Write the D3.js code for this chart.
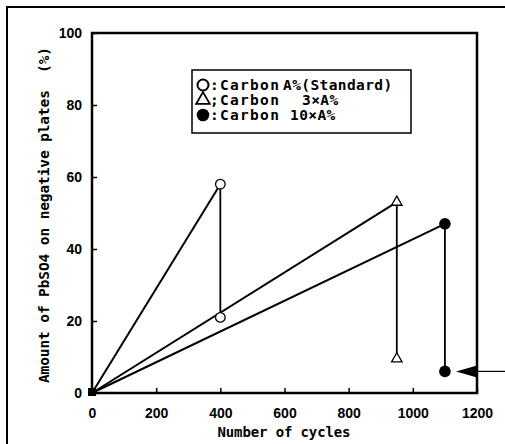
<!DOCTYPE html>
<html>
<head>
<meta charset="utf-8">
<script src="https://d3js.org/d3.v7.min.js"></script>
<style>
  body { margin: 0; background: #fff; }
  svg { display: block; }
  .tick text { font-family: "Liberation Sans", Arial, sans-serif; font-weight: bold; font-size: 14px; fill: #000; }
  .mono { font-family: "DejaVu Sans Mono", monospace; font-weight: bold; fill: #000; white-space: pre; }
</style>
</head>
<body>
<div id="chart"></div>
<script>
// values
var series = ['Carbon A%(Standard)', 'Carbon 3\u00d7A%', 'Carbon 10\u00d7A%'];
var cycles = [400, 950, 1100];
var peakValues = [58, 53, 47];
var afterValues = [21, 9.5, 6];
var xTicks = [0, 200, 400, 600, 800, 1000, 1200];
var yTicks = [0, 20, 40, 60, 80, 100];

var W = 505, H = 444;
var svg = d3.select('#chart').append('svg').attr('width', W).attr('height', H);

// outer frame (open to the right and bottom, cropped)
svg.append('rect')
  .attr('x', 7).attr('y', 7).attr('width', 520).attr('height', 460)
  .attr('fill', 'none').attr('stroke', '#000').attr('stroke-width', 2);

var x = d3.scaleLinear().domain([0, 1200]).range([92, 477]);
var y = d3.scaleLinear().domain([0, 100]).range([393, 33]);

var xAxis = svg.append('g')
  .attr('transform', 'translate(0,' + y(0) + ')')
  .call(d3.axisBottom(x).tickValues(xTicks).tickSize(-5).tickSizeOuter(0).tickPadding(15).tickFormat(d3.format('d')));
var yAxis = svg.append('g')
  .attr('transform', 'translate(' + x(0) + ',0)')
  .call(d3.axisLeft(y).tickValues(yTicks).tickSize(-5).tickSizeOuter(0).tickPadding(10));
[xAxis, yAxis].forEach(function(a){
  a.select('.domain').remove();
  a.selectAll('line').attr('stroke', '#000').attr('stroke-width', 1.5);
});

// plot box
svg.append('rect')
  .attr('x', x(0)).attr('y', y(100))
  .attr('width', x(1200) - x(0)).attr('height', y(0) - y(100))
  .attr('fill', 'none').attr('stroke', '#000').attr('stroke-width', 2.5);

// lines from origin to peaks
var g = svg.append('g');
g.selectAll('.rise')
  .data(cycles)
  .enter()
  .append('line')
  .attr('x1', x(0)).attr('y1', y(0))
  .attr('x2', function(d){ return x(d); })
  .attr('y2', function(d,i){ return y(peakValues[i]); })
  .attr('stroke', '#000').attr('stroke-width', 2);

// drops
g.selectAll('.drop')
  .data(cycles)
  .enter()
  .append('line')
  .attr('x1', function(d){ return x(d); })
  .attr('x2', function(d){ return x(d); })
  .attr('y1', function(d,i){ return y(peakValues[i]); })
  .attr('y2', function(d,i){ return y(afterValues[i]); })
  .attr('stroke', '#000').attr('stroke-width', 1.8);

// origin marker
g.append('rect')
  .attr('x', x(0) - 4).attr('y', y(0) - 5).attr('width', 8).attr('height', 8)
  .attr('fill', '#000');

function marker(sel, i) {
  if (i === 0) {
    sel.append('circle').attr('r', 4.8).attr('fill', '#fff').attr('stroke', '#000').attr('stroke-width', 1.3);
  } else if (i === 1) {
    sel.append('path').attr('d', d3.symbol().type(d3.symbolTriangle).size(48)())
      .attr('fill', '#fff').attr('stroke', '#000').attr('stroke-width', 1.3);
  } else {
    sel.append('circle').attr('r', 5.8).attr('fill', '#000');
  }
}

cycles.forEach(function(c, i){
  [peakValues[i], afterValues[i]].forEach(function(v){
    var m = g.append('g').attr('transform', 'translate(' + x(c) + ',' + y(v) + ')');
    marker(m, i);
  });
});

// arrow pointing at the last point
var ay = y(afterValues[2]);
svg.append('line')
  .attr('x1', x(1200)).attr('x2', W).attr('y1', ay).attr('y2', ay)
  .attr('stroke', '#000').attr('stroke-width', 1.2);
svg.append('path')
  .attr('d', 'M' + (x(1200) - 21) + ',' + ay + 'L' + x(1200) + ',' + (ay - 6) + 'L' + x(1200) + ',' + (ay + 6) + 'Z')
  .attr('fill', '#000');

// legend
var lg = svg.append('g');
lg.append('rect')
  .attr('x', 192).attr('y', 70).attr('width', 219).attr('height', 63)
  .attr('fill', '#fff').attr('stroke', '#000').attr('stroke-width', 1.5);
var seps = [':', ';', ':'];
var rest = ['A%(Standard)', '3\u00d7A%', '10\u00d7A%'];
var restX = [283, 302, 290];
series.forEach(function(s, i){
  var cy = 85 + i * 15;
  var m = lg.append('g').attr('transform', 'translate(203,' + cy + ')');
  if (i === 0) {
    m.append('circle').attr('r', 5.5).attr('fill', 'none').attr('stroke', '#000').attr('stroke-width', 2);
  } else if (i === 1) {
    m.append('path').attr('d', d3.symbol().type(d3.symbolTriangle).size(80)())
      .attr('fill', 'none').attr('stroke', '#000').attr('stroke-width', 1.8);
  } else {
    m.append('circle').attr('r', 6.3).attr('fill', '#000');
  }
  var t = lg.append('text').attr('class', 'mono').attr('y', cy + 5)
    .style('font-size', '14.5px');
  t.append('tspan').attr('x', 210).text(seps[i]);
  t.append('tspan').attr('x', 220).style('letter-spacing', '1.3px').text('Carbon');
  t.append('tspan').attr('x', restX[i]).style('letter-spacing', '0.4px').text(rest[i]);
});

// axis titles
svg.append('text').attr('class', 'mono')
  .attr('x', 284).attr('y', 437)
  .attr('text-anchor', 'middle')
  .style('font-size', '14px')
  .attr('textLength', 133)
  .text('Number of cycles');

svg.append('text').attr('class', 'mono')
  .attr('transform', 'translate(49,215) rotate(-90)')
  .attr('text-anchor', 'middle')
  .style('font-size', '14.5px')
  .attr('textLength', 336)
  .text('Amount of PbSO4 on negative plates  (%)');
</script>
</body>
</html>
